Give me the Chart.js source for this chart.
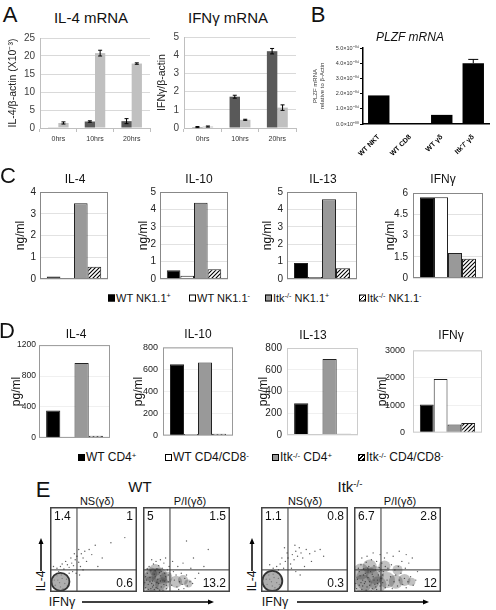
<!DOCTYPE html>
<html>
<head>
<meta charset="utf-8">
<title>Itk figure</title>
<script src="https://cdn.jsdelivr.net/npm/chart.js@4.4.1/dist/chart.umd.min.js"></script>
<style>
  html, body { margin: 0; padding: 0; background: #fff; }
  body { position: relative; width: 496px; height: 610px; overflow: hidden; font-family: 'Liberation Sans', Arial, sans-serif; color: #111; }
  canvas { position: absolute; }
  .txt { position: absolute; white-space: nowrap; line-height: 1; transform: translate(-50%, -50%); }
  .rot { transform: translate(-50%, -50%) rotate(-90deg); }
  .leg { position: absolute; white-space: nowrap; line-height: 1; transform: translateY(-50%); }
  .sw { display: inline-block; width: 7px; height: 7px; border: 1px solid #000; margin-right: 1px; vertical-align: 0px; box-sizing: border-box; }
  sup { font-size: 65%; vertical-align: 0.45em; line-height: 0; }
</style>
</head>
<body>
<svg id="arrows" width="496" height="610" style="position:absolute;left:0;top:0"></svg>
<script>
// ---- A: mRNA time course ----
const hours = ['0hrs', '10hrs', '20hrs'];
const il4Dark = [0.1, 1.8, 1.9];
const il4DarkErr = [0, 0.2, 0.7];
const il4Light = [1.4, 20.8, 17.9];
const il4LightErr = [0.3, 0.8, 0.2];
const ifnDark = [0.05, 1.72, 4.22];
const ifnDarkErr = [0.03, 0.08, 0.15];
const ifnLight = [0.08, 0.45, 1.12];
const ifnLightErr = [0.03, 0.03, 0.15];

// ---- B: PLZF ----
const plzfCells = ['WT NKT', 'WT CD8', 'WT γδ', 'Itk⁻/⁻ γδ'];
const plzfValues = [1.88e-4, 0.03e-4, 0.6e-4, 4.0e-4];
const plzfErr = [0, 0, 0, 0.25e-4];
const plzfTicks = ['0.0×10⁺⁰⁰', '1.0×10⁻⁰⁴', '2.0×10⁻⁰⁴', '3.0×10⁻⁰⁴', '4.0×10⁻⁰⁴', '5.0×10⁻⁰⁴'];

// ---- C: NK1.1 subsets (ng/ml) ----
const cGroups = ['WT NK1.1⁺', 'WT NK1.1⁻', 'Itk⁻/⁻ NK1.1⁺', 'Itk⁻/⁻ NK1.1⁻'];
const cIL4 = [0.12, 0.03, 3.48, 0.56];
const cIL10 = [0.5, 0.18, 4.38, 0.56];
const cIL13 = [0.92, 0.12, 4.58, 0.62];
const cIFNg = [5.7, 5.7, 1.76, 1.36];

// ---- D: CD4 subsets (pg/ml) ----
const dGroups = ['WT CD4⁺', 'WT CD4/CD8⁻', 'Itk⁻/⁻ CD4⁺', 'Itk⁻/⁻ CD4/CD8⁻'];
const dIL4 = [355, 10, 970, 28];
const dIL10 = [648, 15, 662, 17];
const dIL13 = [292, 5, 700, 12];
const dIFNg = [1030, 1960, 300, 350];

// ---- E: flow plots (IFNγ on x, IL-4 on y, 0-100 display units) ----
const flowTitles = ['NS(γδ)', 'P/I(γδ)', 'NS(γδ)', 'P/I(γδ)'];
const flowQuadrants = [['1.4', '1', '0.6'], ['5', '1.5', '13.2'], ['1.1', '0.8', '0.3'], ['6.7', '2.8', '12']];
const flowGates = [[31, 26], [31, 26], [31, 26], [31, 26]];
// dense populations: [x, y, radius px]
const wtNsCore = [[12, 12, 9]];
const wtNsDots = [[6, 8], [9, 14], [12, 6], [14, 16], [17, 10], [8, 19], [19, 15], [11, 11], [15, 4], [5, 14], [20, 8], [13, 20],
  [8, 28], [12, 30], [16, 27], [20, 32], [22, 29], [25, 34], [18, 36], [27, 31], [29, 38], [33, 35], [24, 40], [31, 42],
  [35, 30], [38, 40], [36, 45], [28, 45], [40, 48], [42, 36], [45, 50], [33, 50], [48, 44], [52, 55], [14, 33], [10, 24],
  [26, 24], [30, 22], [34, 20], [22, 22], [60, 40], [70, 58], [86, 64], [55, 30], [4, 30], [38, 26]];
const wtPiCore = [[14, 14, 12], [9, 9, 8], [19, 19, 8], [8, 21, 7], [22, 9, 7], [14, 26, 6], [27, 17, 6], [38, 12, 6], [46, 14, 5], [52, 10, 4]];
const wtPiDots = [[3, 5], [6, 9], [9, 4], [12, 8], [15, 5], [18, 10], [21, 6], [24, 9], [27, 4], [4, 14], [8, 17], [11, 13],
  [14, 18], [17, 15], [20, 19], [23, 14], [26, 18], [29, 12], [5, 22], [9, 25], [13, 21], [16, 27], [19, 23], [22, 28],
  [25, 22], [28, 26], [7, 30], [12, 33], [18, 31], [24, 34], [30, 30], [2, 11], [10, 10], [13, 3], [19, 2], [25, 13],
  [6, 3], [16, 11], [21, 24], [27, 8], [3, 18], [14, 25], [11, 6], [8, 12], [20, 13], [17, 4], [23, 2], [29, 20], [5, 27],
  [15, 36], [20, 38], [26, 40], [10, 38], [33, 8], [36, 14], [39, 6], [42, 12], [45, 9], [48, 16], [51, 7], [54, 12],
  [38, 20], [44, 22], [50, 20], [57, 10], [60, 16], [35, 24], [41, 3], [47, 4], [64, 22], [34, 36], [40, 30], [46, 34],
  [55, 28], [58, 40], [70, 30], [75, 50], [50, 60]];
const itkNsCore = [[13, 13, 10]];
const itkNsDots = [[7, 9], [10, 15], [13, 7], [15, 17], [18, 11], [9, 20], [20, 16], [12, 12], [16, 5], [6, 15], [21, 9], [14, 21],
  [18, 30], [22, 33], [26, 28], [28, 36], [31, 40], [34, 33], [36, 44], [38, 38], [40, 48], [42, 42], [44, 52], [46, 46],
  [30, 46], [24, 40], [35, 28], [48, 40], [52, 50], [56, 45], [62, 48], [68, 50], [72, 42], [20, 26], [14, 28], [10, 32],
  [27, 52], [39, 55], [50, 30], [58, 36], [40, 24], [45, 20]];
const itkPiCore = [[16, 15, 12], [10, 10, 9], [24, 20, 9], [8, 24, 8], [28, 9, 8], [18, 30, 7], [38, 14, 8], [48, 12, 7],
  [58, 14, 6], [66, 12, 4], [35, 30, 6], [50, 26, 5]];
const itkPiDots = [[3, 4], [6, 8], [9, 3], [12, 10], [15, 6], [18, 12], [21, 4], [24, 9], [27, 14], [30, 7], [33, 11],
  [4, 15], [7, 19], [10, 14], [13, 22], [16, 17], [19, 24], [22, 18], [25, 26], [28, 20], [31, 16], [34, 24],
  [5, 28], [8, 32], [11, 27], [14, 35], [17, 30], [20, 38], [23, 31], [26, 36], [29, 29], [32, 34], [35, 40],
  [2, 10], [10, 7], [14, 2], [20, 1], [26, 3], [36, 5], [38, 14], [40, 8], [42, 18], [44, 4], [46, 12], [48, 20],
  [50, 7], [52, 14], [54, 22], [56, 9], [58, 16], [60, 5], [62, 12], [65, 18], [68, 8], [71, 14], [73, 24],
  [39, 28], [43, 32], [47, 26], [51, 30], [55, 36], [59, 28], [63, 34], [67, 40], [45, 42], [38, 46], [30, 44],
  [22, 46], [15, 42], [9, 40], [52, 48], [60, 44], [18, 8], [23, 14], [11, 20], [27, 10], [6, 24], [16, 28],
  [29, 24], [21, 21], [13, 12], [8, 11], [25, 6], [33, 20], [36, 30]];

Chart.defaults.font.family = "'Liberation Sans', Arial, sans-serif";
Chart.defaults.animation = false;
Chart.defaults.responsive = false;
Chart.defaults.plugins.legend.display = false;
Chart.defaults.plugins.tooltip.enabled = false;

// box drawn round the plot area
Chart.register({
    id: 'frame',
    afterDatasetsDraw(chart, args, opts) {
        if (!opts.color) return;
        const { left, top, right, bottom } = chart.chartArea;
        const ctx = chart.ctx;
        ctx.save();
        ctx.strokeStyle = opts.color;
        ctx.lineWidth = opts.width || 1;
        const o = ctx.lineWidth / 2;
        ctx.strokeRect(left + o, top + o, right - left - 2 * o, bottom - top - 2 * o);
        ctx.restore();
    }
});

// error bars from dataset.errors, in value units
Chart.register({
    id: 'errorBars',
    afterDatasetsDraw(chart) {
        const ctx = chart.ctx;
        chart.data.datasets.forEach((ds, i) => {
            if (!ds.errors) return;
            const meta = chart.getDatasetMeta(i);
            const y = chart.scales[meta.yAxisID];
            meta.data.forEach((bar, j) => {
                const e = ds.errors[j];
                if (!e) return;
                const v = ds.data[j];
                const top = y.getPixelForValue(v + e);
                const bot = y.getPixelForValue(ds.errorMode === 'up' ? v : v - e);
                const cap = ds.capWidth || 2;
                ctx.save();
                ctx.strokeStyle = '#000';
                ctx.lineWidth = 1;
                ctx.beginPath();
                ctx.moveTo(bar.x, top); ctx.lineTo(bar.x, bot);
                ctx.moveTo(bar.x - cap, top); ctx.lineTo(bar.x + cap, top);
                if (ds.errorMode !== 'up') { ctx.moveTo(bar.x - cap, bot); ctx.lineTo(bar.x + cap, bot); }
                ctx.stroke();
                ctx.restore();
            });
        });
    }
});

// quadrant percentages in flow plots
Chart.register({
    id: 'quadText',
    afterDatasetsDraw(chart, args, opts) {
        if (!opts.labels) return;
        const { left, top, right, bottom } = chart.chartArea;
        const ctx = chart.ctx;
        ctx.save();
        ctx.font = "12px 'Liberation Sans', Arial, sans-serif";
        ctx.fillStyle = '#111';
        ctx.textBaseline = 'top';
        ctx.textAlign = 'left';
        ctx.fillText(opts.labels[0], left + 4, top + 4);
        ctx.textAlign = 'right';
        ctx.fillText(opts.labels[1], right - 4, top + 4);
        ctx.textBaseline = 'bottom';
        ctx.fillText(opts.labels[2], right - 4, bottom - 2);
        ctx.restore();
    }
});

function mount(plot, yW, padT, padR, xH, padB) {
    const cv = document.createElement('canvas');
    const w = plot.r - plot.l + yW + padR;
    const h = plot.b - plot.t + padT + xH + padB;
    cv.width = w; cv.height = h;
    cv.style.left = (plot.l - yW) + 'px';
    cv.style.top = (plot.t - padT) + 'px';
    cv.style.width = w + 'px';
    cv.style.height = h + 'px';
    document.body.appendChild(cv);
    return { cv, padding: { top: padT, right: padR, bottom: padB, left: 0 } };
}

function text(html, x, y, size, cls, extra) {
    const d = document.createElement('div');
    d.className = cls || 'txt';
    d.innerHTML = html;
    d.style.left = x + 'px';
    d.style.top = y + 'px';
    d.style.fontSize = size + 'px';
    if (extra) d.style.cssText += extra;
    document.body.appendChild(d);
    return d;
}

function hatchPattern() {
    const c = document.createElement('canvas');
    c.width = 4; c.height = 4;
    const g = c.getContext('2d');
    g.fillStyle = '#fff'; g.fillRect(0, 0, 4, 4);
    g.strokeStyle = '#000'; g.lineWidth = 1.1;
    g.beginPath();
    g.moveTo(0, 4); g.lineTo(4, 0);
    g.moveTo(-1, 1); g.lineTo(1, -1);
    g.moveTo(3, 5); g.lineTo(5, 3);
    g.stroke();
    return g.createPattern(c, 'repeat');
}
const hatch = hatchPattern();
const groupFills = ['#000', '#fff', '#999', hatch];

// ---------- A ----------
function mrnaChart(plot, yW, dark, darkErr, light, lightErr, max, step, yTitle) {
    const { cv, padding } = mount(plot, yW, 7, 2, 18, 0);
    new Chart(cv, {
        type: 'bar',
        data: {
            labels: hours,
            datasets: [
                { data: dark, errors: darkErr, backgroundColor: '#595959', categoryPercentage: 0.56, barPercentage: 1 },
                { data: light, errors: lightErr, backgroundColor: '#c0c0c0', categoryPercentage: 0.56, barPercentage: 1 }
            ]
        },
        options: {
            layout: { autoPadding: false, padding },
            scales: {
                x: {
                    grid: { display: true, drawOnChartArea: false, offset: true, tickLength: 4, color: '#bfbfbf' },
                    border: { color: '#bfbfbf' },
                    ticks: { font: { size: 7 }, color: '#333', padding: 3, maxRotation: 0 },
                    afterFit: s => { s.height = 18; }
                },
                y: {
                    min: 0, max,
                    ticks: { stepSize: step, font: { size: 10 }, color: '#404040', padding: 5 },
                    grid: { color: '#d9d9d9', drawTicks: false },
                    border: { color: '#bfbfbf' },
                    title: { display: true, text: yTitle, padding: 0, font: { size: 10.5 }, color: '#222' },
                    afterFit: s => { s.width = yW; }
                }
            }
        }
    });
}
mrnaChart({ l: 40, t: 34, r: 150, b: 128 }, 33, il4Dark, il4DarkErr, il4Light, il4LightErr, 25, 5, 'IL-4/β-actin (X10⁻³)');
mrnaChart({ l: 184, t: 33, r: 296, b: 128 }, 28, ifnDark, ifnDarkErr, ifnLight, ifnLightErr, 5, 1, 'IFNγ/β-actin');

text('A', 10, 15, 22);
text('IL-4 mRNA', 91, 17, 15);
text('IFNγ mRNA', 228, 17, 15);

// ---------- B ----------
(function () {
    const plot = { l: 363, t: 48, r: 489, b: 124 };
    const { cv, padding } = mount(plot, 51, 6, 3, 36, 0);
    new Chart(cv, {
        type: 'bar',
        data: {
            labels: plzfCells,
            datasets: [{ data: plzfValues, errors: plzfErr, errorMode: 'up', capWidth: 5, backgroundColor: '#000', categoryPercentage: 1, barPercentage: 0.68 }]
        },
        options: {
            layout: { autoPadding: false, padding },
            scales: {
                x: {
                    grid: { display: false },
                    border: { color: '#000', width: 1.5 },
                    ticks: { font: { size: 7, weight: 'bold' }, color: '#000', padding: 1, minRotation: 45, maxRotation: 45, autoSkip: false },
                    afterFit: s => { s.height = 36; }
                },
                y: {
                    min: 0, max: 5e-4,
                    ticks: { stepSize: 1e-4, font: { size: 5.5 }, color: '#333', padding: 1, callback: (v, i) => plzfTicks[i] },
                    grid: { display: true, drawOnChartArea: false, tickLength: 3, color: '#000', lineWidth: 1 },
                    border: { color: '#000', width: 1.5 },
                    title: { display: true, text: ['PLZF mRNA', 'relative to β-Actin'], padding: 0, font: { size: 6 }, color: '#333' },
                    afterFit: s => { s.width = 51; }
                }
            }
        }
    });
})();
text('B', 318, 15, 22);
text('PLZF mRNA', 410, 37, 12, 'txt', 'font-style:italic');

// ---------- C and D ----------
function cytokineChart(plot, yW, padR, values, groups, max, step, unit, tickSize, frameColor, gridColor) {
    const { cv, padding } = mount(plot, yW, 7, padR, 0, 7);
    new Chart(cv, {
        type: 'bar',
        data: {
            labels: [''],
            datasets: values.map((v, i) => ({
                label: groups[i], data: [v], backgroundColor: groupFills[i],
                borderColor: '#222', borderWidth: 1, categoryPercentage: 0.8, barPercentage: 1
            }))
        },
        options: {
            layout: { autoPadding: false, padding },
            plugins: { frame: { color: frameColor } },
            scales: {
                x: { display: false },
                y: {
                    min: 0, max,
                    ticks: { stepSize: step, font: { size: tickSize }, color: '#222', padding: plot.pad, callback: v => String(v) },
                    grid: { color: gridColor, drawTicks: false },
                    border: { display: false },
                    title: { display: true, text: unit, padding: 0, font: { size: 12 }, color: '#111' },
                    afterFit: s => { s.width = yW; }
                }
            }
        }
    });
}
cytokineChart({ l: 40, t: 189, r: 108, b: 282, pad: 4 }, 27, 2, cIL4, cGroups, 4, 1, 'ng/ml', 10, '#888', '#e2e2e2');
cytokineChart({ l: 160, t: 189, r: 228, b: 282, pad: 4 }, 24, 2, cIL10, cGroups, 5, 1, 'ng/ml', 10, '#888', '#e2e2e2');
cytokineChart({ l: 287, t: 189, r: 357, b: 282, pad: 4 }, 27, 2, cIL13, cGroups, 5, 1, 'ng/ml', 10, '#888', '#e2e2e2');
cytokineChart({ l: 413, t: 189, r: 483, b: 282, pad: 5 }, 30, 2, cIFNg, cGroups, 6, 1.5, 'ng/ml', 10, '#888', '#e2e2e2');

text('C', 8, 176, 22);
text('IL-4', 75, 179, 12);
text('IL-10', 199, 179, 12);
text('IL-13', 323, 179, 12);
text('IFNγ', 443, 179, 12);

cytokineChart({ l: 39, t: 344, r: 110, b: 439, pad: 3 }, 30, 2, dIL4, dGroups, 1200, 400, 'pg/ml', 8.5, '#999', '#f0f0f0');
cytokineChart({ l: 163, t: 344, r: 233, b: 439, pad: 5 }, 32, 2, dIL10, dGroups, 800, 200, 'pg/ml', 9, '#999', '#f0f0f0');
cytokineChart({ l: 287, t: 344, r: 358, b: 439, pad: 5 }, 31, 2, dIL13, dGroups, 800, 200, 'pg/ml', 10, '#ccc', '#f0f0f0');
cytokineChart({ l: 413, t: 344, r: 482, b: 439, pad: 8 }, 38, 2, dIFNg, dGroups, 3000, 1000, 'pg/ml', 9, '#ccc', '#f0f0f0');

text('D', 7, 331, 22);
text('IL-4', 76, 334, 12);
text('IL-10', 198, 334, 12);
text('IL-13', 313, 335, 12);
text('IFNγ', 451, 335, 12);

// legends
function legendRow(items, y, size) {
    items.forEach(it => {
        text(`<span class="sw" style="${it.sw}"></span>${it.html}`, it.x, y, size, 'leg');
    });
}
const swBlack = 'background:#000', swWhite = 'background:#fff', swGray = 'background:#999',
    swHatch = 'background:repeating-linear-gradient(135deg,#000 0 1px,#fff 1px 2.8px)';
legendRow([
    { x: 108, sw: swBlack, html: 'WT NK1.1<sup>+</sup>' },
    { x: 189, sw: swWhite, html: 'WT NK1.1<sup>-</sup>' },
    { x: 265, sw: swGray, html: 'Itk<sup>-/-</sup> NK1.1<sup>+</sup>' },
    { x: 359, sw: swHatch, html: 'Itk<sup>-/-</sup> NK1.1<sup>-</sup>' }
], 298, 11);
legendRow([
    { x: 78, sw: swBlack, html: 'WT CD4<sup>+</sup>' },
    { x: 165, sw: swWhite, html: 'WT CD4/CD8<sup>-</sup>' },
    { x: 272, sw: swGray, html: 'Itk<sup>-/-</sup> CD4<sup>+</sup>' },
    { x: 358, sw: swHatch, html: 'Itk<sup>-/-</sup> CD4/CD8<sup>-</sup>' }
], 457, 12);

// ---------- E ----------
function flowChart(frame, core, dots, gate, quad, dense) {
    const { cv, padding } = mount(frame, 0, 0, 0, 0, 0);
    new Chart(cv, {
        type: 'scatter',
        data: {
            datasets: [
                {
                    type: 'bubble', data: core.map(p => ({ x: p[0], y: p[1], r: p[2] })),
                    backgroundColor: dense ? 'rgba(50,50,50,0.3)' : 'rgba(140,140,140,0.7)',
                    borderColor: dense ? 'rgba(0,0,0,0)' : '#333', borderWidth: dense ? 0 : 1.8
                },
                { data: dots.map(p => ({ x: p[0], y: p[1] })), pointRadius: 0.7, backgroundColor: 'rgba(25,25,25,0.7)', borderWidth: 0 },
                { type: 'line', data: [{ x: gate[0], y: 0 }, { x: gate[0], y: 100 }], borderColor: '#333', borderWidth: 1, pointRadius: 0 },
                { type: 'line', data: [{ x: 0, y: gate[1] }, { x: 100, y: gate[1] }], borderColor: '#333', borderWidth: 1, pointRadius: 0 }
            ]
        },
        options: {
            layout: { autoPadding: false, padding },
            plugins: { frame: { color: '#444', width: 1.5 }, quadText: { labels: quad } },
            scales: {
                x: { type: 'linear', display: false, min: 0, max: 100 },
                y: { type: 'linear', display: false, min: 0, max: 100 }
            }
        }
    });
}
flowChart({ l: 50, t: 507, r: 137, b: 592 }, wtNsCore, wtNsDots, flowGates[0], flowQuadrants[0], false);
flowChart({ l: 143, t: 507, r: 230, b: 592 }, wtPiCore, wtPiDots, flowGates[1], flowQuadrants[1], true);
flowChart({ l: 261, t: 507, r: 348, b: 592 }, itkNsCore, itkNsDots, flowGates[2], flowQuadrants[2], false);
flowChart({ l: 354, t: 507, r: 441, b: 592 }, itkPiCore, itkPiDots, flowGates[3], flowQuadrants[3], true);

text('E', 43, 490, 22);
text('WT', 140, 486, 15);
text('Itk<sup>-/-</sup>', 350, 486, 15);
text(flowTitles[0], 97, 501, 11);
text(flowTitles[1], 190, 501, 11);
text(flowTitles[2], 305, 501, 11);
text(flowTitles[3], 400, 501, 11);
text('IL-4', 41, 581, 12, 'txt rot');
text('IL-4', 252, 581, 12, 'txt rot');
text('IFNγ', 62, 602, 12.5);
text('IFNγ', 275, 602, 12.5);

// axis arrows
const svg = document.getElementById('arrows');
function arrow(x1, y1, x2, y2) {
    const ns = 'http://www.w3.org/2000/svg';
    const ang = Math.atan2(y2 - y1, x2 - x1);
    const line = document.createElementNS(ns, 'line');
    line.setAttribute('x1', x1); line.setAttribute('y1', y1);
    line.setAttribute('x2', x2 - 4 * Math.cos(ang)); line.setAttribute('y2', y2 - 4 * Math.sin(ang));
    line.setAttribute('stroke', '#000'); line.setAttribute('stroke-width', '1.5');
    svg.appendChild(line);
    const head = document.createElementNS(ns, 'polygon');
    const px = -Math.sin(ang), py = Math.cos(ang);
    const bx = x2 - 6 * Math.cos(ang), by = y2 - 6 * Math.sin(ang);
    head.setAttribute('points', `${x2},${y2} ${bx + 2.5 * px},${by + 2.5 * py} ${bx - 2.5 * px},${by - 2.5 * py}`);
    head.setAttribute('fill', '#000');
    svg.appendChild(head);
}
arrow(41, 571, 41, 538);
arrow(252, 571, 252, 538);
arrow(82, 602, 214, 602);
arrow(297, 602, 429, 602);
</script>
</body>
</html>
